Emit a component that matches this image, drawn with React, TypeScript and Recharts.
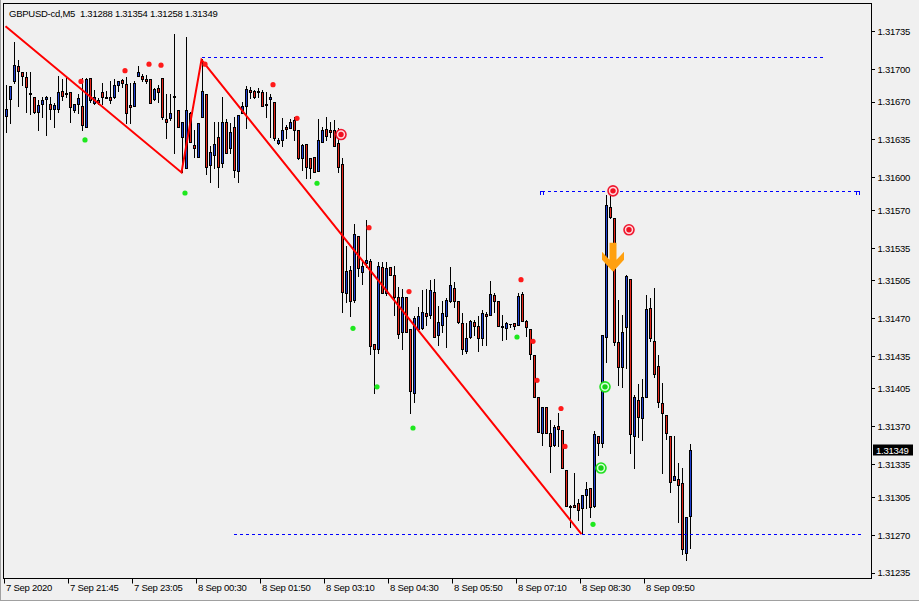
import React from "react"
import { ComposedChart, Bar, Line, XAxis, YAxis, ReferenceLine, ReferenceDot } from "recharts"

// time axis labels (one every 16 bars, M5)
const timeLabels = [
  "7 Sep 2020", "7 Sep 21:45", "7 Sep 23:05", "8 Sep 00:30", "8 Sep 01:50", "8 Sep 03:10",
  "8 Sep 04:30", "8 Sep 05:50", "8 Sep 07:10", "8 Sep 08:30", "8 Sep 09:50",
]
const timeTickIdx = [0, 16, 32, 48, 64, 80, 96, 112, 128, 144, 160]

const priceTicks = [
  1.31735, 1.317, 1.3167, 1.31635, 1.316, 1.3157, 1.31535, 1.31505, 1.3147, 1.31435,
  1.31405, 1.3137, 1.31335, 1.31305, 1.3127, 1.31235,
]

// GBPUSD-cd M5 candles
const open = [
  1.31657, 1.31673, 1.31689, 1.31703, 1.31698, 1.31693, 1.31678, 1.31675, 1.31661, 1.31668,
  1.31673, 1.31668, 1.31664, 1.31664, 1.3168, 1.31678, 1.31679, 1.31663, 1.31668, 1.31666,
  1.31647, 1.31692, 1.31669, 1.31672, 1.31679, 1.31675, 1.31675, 1.31675, 1.31686, 1.3169,
  1.31687, 1.31667, 1.31666, 1.31694, 1.31694, 1.31691, 1.31691, 1.31673, 1.31683, 1.31692,
  1.31654, 1.31655, 1.31676, 1.31663, 1.31638, 1.31609, 1.3166, 1.3163, 1.31619, 1.31656,
  1.31677, 1.31612, 1.31621, 1.31638, 1.31614, 1.31652, 1.31628, 1.31647, 1.31606, 1.3166,
  1.31666, 1.31681, 1.3168, 1.3168, 1.31679, 1.31668, 1.31673, 1.3167, 1.31632, 1.31635,
  1.31647, 1.31646, 1.31653, 1.31644, 1.31618, 1.31631, 1.31618, 1.31619, 1.31606, 1.31633,
  1.31645, 1.31644, 1.31644, 1.31632, 1.31613, 1.31494, 1.31515, 1.31487, 1.31546, 1.31513,
  1.31521, 1.31523, 1.31447, 1.31442, 1.31518, 1.31494, 1.31518, 1.3151, 1.3149, 1.31458,
  1.3149, 1.3146, 1.31401, 1.3146, 1.31461, 1.31475, 1.31473, 1.31495, 1.31455, 1.31464,
  1.31472, 1.31486, 1.31498, 1.31486, 1.31466, 1.3144, 1.31453, 1.31467, 1.31463, 1.31452,
  1.31474, 1.31473, 1.31492, 1.31486, 1.31463, 1.31461, 1.31465, 1.31466, 1.31464, 1.31493,
  1.31468, 1.3146, 1.31436, 1.31398, 1.31364, 1.31388, 1.31364, 1.31353, 1.31371, 1.31367,
  1.3133, 1.31297, 1.31298, 1.313, 1.31295, 1.31307, 1.31314, 1.31297, 1.31362, 1.31355,
  1.31453, 1.31573, 1.31563, 1.31448, 1.31425, 1.31462, 1.31507, 1.31362, 1.31395, 1.31378,
  1.31398, 1.3148, 1.31449, 1.31426, 1.31392, 1.31381, 1.31362, 1.31321, 1.31322, 1.31318,
  1.31254, 1.31288,
]
const high = [
  1.31686, 1.31685, 1.31725, 1.31709, 1.31698, 1.31698, 1.31698, 1.31675, 1.31672, 1.31675,
  1.31676, 1.31675, 1.31669, 1.31694, 1.31691, 1.31692, 1.31679, 1.31668, 1.31677, 1.31692,
  1.31692, 1.31692, 1.31681, 1.31674, 1.31688, 1.3168, 1.31689, 1.31691, 1.31689, 1.31691,
  1.31693, 1.31688, 1.31689, 1.31703, 1.31696, 1.31695, 1.31691, 1.31683, 1.31686, 1.31692,
  1.31677, 1.31677, 1.31733, 1.31663, 1.31652, 1.3173, 1.31661, 1.31644, 1.31651, 1.3171,
  1.31677, 1.31629, 1.31652, 1.31652, 1.31675, 1.31654, 1.31651, 1.31656, 1.31658, 1.3167,
  1.31685, 1.31684, 1.31681, 1.31683, 1.31681, 1.31679, 1.31677, 1.3167, 1.31637, 1.31655,
  1.31649, 1.31654, 1.31656, 1.31644, 1.31631, 1.31631, 1.31618, 1.31619, 1.31654, 1.31647,
  1.31656, 1.31652, 1.31653, 1.31646, 1.31618, 1.31537, 1.31519, 1.31557, 1.31546, 1.31522,
  1.31561, 1.31525, 1.31447, 1.31522, 1.31522, 1.31522, 1.31518, 1.31519, 1.31499, 1.31497,
  1.3149, 1.3146, 1.31472, 1.31481, 1.31496, 1.31497, 1.31506, 1.31507, 1.31482, 1.31486,
  1.31489, 1.31518, 1.31504, 1.31486, 1.31475, 1.31466, 1.31469, 1.31469, 1.31472, 1.31478,
  1.31476, 1.31505, 1.31494, 1.31486, 1.31473, 1.31467, 1.31465, 1.31466, 1.31494, 1.31495,
  1.31469, 1.3146, 1.31436, 1.31398, 1.31388, 1.31388, 1.31376, 1.31372, 1.31383, 1.31367,
  1.3133, 1.31298, 1.31327, 1.31303, 1.31307, 1.31319, 1.31314, 1.31366, 1.31362, 1.31455,
  1.31584, 1.31586, 1.31563, 1.31487, 1.31473, 1.3151, 1.31507, 1.31399, 1.3141, 1.31414,
  1.31492, 1.31489, 1.31498, 1.31436, 1.31411, 1.31381, 1.31362, 1.31362, 1.31337, 1.31332,
  1.31287, 1.31354,
]
const low = [
  1.31642, 1.31651, 1.31688, 1.31666, 1.31686, 1.31661, 1.31659, 1.3166, 1.31644, 1.31656,
  1.3164, 1.31654, 1.31647, 1.31661, 1.31672, 1.31675, 1.31652, 1.31661, 1.3166, 1.31644,
  1.31647, 1.3167, 1.31668, 1.31668, 1.31668, 1.31674, 1.31669, 1.31674, 1.3168, 1.31684,
  1.31651, 1.31651, 1.31666, 1.31694, 1.31689, 1.31688, 1.31669, 1.31672, 1.3167, 1.31654,
  1.31637, 1.31653, 1.31623, 1.31647, 1.31605, 1.31609, 1.31633, 1.31619, 1.31619, 1.31656,
  1.31604, 1.31596, 1.31609, 1.31592, 1.3161, 1.31623, 1.31623, 1.31601, 1.31596, 1.3166,
  1.31646, 1.31674, 1.31674, 1.31675, 1.31666, 1.31656, 1.31638, 1.31635, 1.31631, 1.31629,
  1.31637, 1.31646, 1.31635, 1.31617, 1.31607, 1.316, 1.316, 1.31605, 1.31606, 1.31633,
  1.31635, 1.31638, 1.31629, 1.31605, 1.31476, 1.31485, 1.31472, 1.31485, 1.31509, 1.31502,
  1.31518, 1.31437, 1.31401, 1.31438, 1.31494, 1.31492, 1.3151, 1.31473, 1.31452, 1.31442,
  1.31458, 1.31383, 1.31393, 1.31459, 1.3146, 1.31464, 1.31471, 1.31453, 1.31446, 1.31458,
  1.31444, 1.31485, 1.31481, 1.31466, 1.31437, 1.31438, 1.31452, 1.31455, 1.3144, 1.31446,
  1.31446, 1.31473, 1.31476, 1.31463, 1.3145, 1.31451, 1.31462, 1.3146, 1.31464, 1.31468,
  1.31454, 1.31433, 1.31398, 1.31365, 1.31353, 1.31364, 1.31328, 1.31352, 1.31352, 1.31332,
  1.31297, 1.31278, 1.31296, 1.31284, 1.31271, 1.31295, 1.31287, 1.31296, 1.31344, 1.31351,
  1.3143, 1.31563, 1.31446, 1.31409, 1.31407, 1.31424, 1.31346, 1.31332, 1.31361, 1.31358,
  1.31398, 1.31449, 1.31416, 1.31388, 1.31327, 1.31359, 1.3131, 1.31321, 1.31282, 1.31253,
  1.31247, 1.31258,
]
const close = [
  1.31664, 1.31685, 1.31704, 1.31699, 1.31694, 1.31684, 1.31677, 1.31661, 1.31667, 1.31672,
  1.31675, 1.31664, 1.31667, 1.31679, 1.31676, 1.31677, 1.31665, 1.31668, 1.31674, 1.31649,
  1.31691, 1.31672, 1.31675, 1.3167, 1.31675, 1.31674, 1.31672, 1.31686, 1.31689, 1.31688,
  1.3166, 1.31665, 1.31688, 1.31698, 1.31691, 1.31689, 1.31669, 1.31682, 1.31679, 1.31656,
  1.31652, 1.3166, 1.31675, 1.31647, 1.31652, 1.31663, 1.31633, 1.31628, 1.31651, 1.3168,
  1.3161, 1.31624, 1.31631, 1.3161, 1.31652, 1.31623, 1.31642, 1.31607, 1.31658, 1.31666,
  1.31682, 1.31679, 1.31675, 1.31679, 1.31666, 1.31667, 1.31675, 1.31637, 1.31635, 1.31644,
  1.31645, 1.31652, 1.31644, 1.31618, 1.3163, 1.3161, 1.31609, 1.31605, 1.31635, 1.31644,
  1.31639, 1.31642, 1.31629, 1.3161, 1.31495, 1.31514, 1.31486, 1.31548, 1.31517, 1.31519,
  1.31524, 1.31445, 1.31442, 1.31519, 1.31494, 1.31517, 1.3151, 1.3149, 1.31456, 1.3149,
  1.31458, 1.31403, 1.31471, 1.31472, 1.31476, 1.31472, 1.31496, 1.31453, 1.31467, 1.31475,
  1.31487, 1.31501, 1.31486, 1.31467, 1.31442, 1.31452, 1.31468, 1.31463, 1.31452, 1.31475,
  1.31472, 1.31493, 1.31486, 1.31463, 1.31462, 1.31466, 1.31465, 1.31463, 1.31491, 1.31468,
  1.31462, 1.31437, 1.31398, 1.31365, 1.31388, 1.31364, 1.31352, 1.3137, 1.31368, 1.31332,
  1.31297, 1.31296, 1.31296, 1.31293, 1.31307, 1.31313, 1.31296, 1.31363, 1.31355, 1.31455,
  1.31575, 1.31564, 1.31448, 1.31425, 1.31458, 1.31509, 1.31363, 1.31398, 1.31379, 1.31398,
  1.31479, 1.31452, 1.31419, 1.31393, 1.31383, 1.31364, 1.31319, 1.31325, 1.31316, 1.31257,
  1.31287, 1.31349,
]

// zigzag turning points
const zigzagIdx = [0, 44, 49, 144]
const zigzagVal = [1.3174, 1.31605, 1.31709, 1.31271]

// fractal-style dots
const upIdx = [19, 30, 36, 39, 50, 67, 73, 91, 101, 129, 132, 133, 139, 140]
const upVal = [1.31689, 1.31699, 1.31705, 1.31704, 1.31705, 1.31686, 1.31655, 1.31554, 1.31495, 1.31506, 1.31449, 1.31413, 1.31387, 1.31352]
const dnIdx = [20, 45, 78, 87, 93, 102, 128, 147]
const dnVal = [1.31635, 1.31586, 1.31595, 1.31461, 1.31407, 1.31369, 1.31453, 1.3128]

// signal markers
const sellIdx = [84, 152, 156]
const sellVal = [1.3164, 1.31588, 1.31552]
const buyIdx = [149, 150]
const buyVal = [1.31332, 1.31407]
const arrowIdx = [152]
const arrowVal = [1.3154]

// horizontal levels
const levelFrom = [49, 57, 134]
const levelTo = [205, 214, 213]
const levelPrice = [1.31711, 1.31271, 1.31587]

const SLOTS = 217
const FONT = "Tahoma, 'Liberation Sans', Arial, sans-serif"
const BULL = "#1f3fd0"
const BEAR = "#e5261b"

type Row = {
  i: number
  open?: number
  high?: number
  low?: number
  close?: number
  zz: number | null
  up: number | null
  dn: number | null
  sell: number | null
  buy: number | null
  arrow: number | null
}

const rows: Row[] = []
for (let i = 0; i < SLOTS; i++) {
  rows.push({
    i,
    open: open[i],
    high: high[i],
    low: low[i],
    close: close[i],
    zz: null,
    up: null,
    dn: null,
    sell: null,
    buy: null,
    arrow: null,
  })
}
zigzagIdx.forEach((k, j) => (rows[k].zz = zigzagVal[j]))
upIdx.forEach((k, j) => (rows[k].up = upVal[j]))
dnIdx.forEach((k, j) => (rows[k].dn = dnVal[j]))
sellIdx.forEach((k, j) => (rows[k].sell = sellVal[j]))
buyIdx.forEach((k, j) => (rows[k].buy = buyVal[j]))
arrowIdx.forEach((k, j) => (rows[k].arrow = arrowVal[j]))

const last = open.length - 1
const fmt = (v: number) => v.toFixed(5)

function Candle(props: any) {
  const { x, y, width, height, payload } = props
  if (!payload || payload.open == null || y == null || isNaN(y)) return <g />
  const top = Math.min(y, y + height)
  const h = Math.abs(height)
  const range = payload.high - payload.low
  const py = (p: number) => (range > 0 ? top + ((payload.high - p) / range) * h : top)
  const cx = Math.floor(x + width / 2) + 0.5
  const yo = Math.round(py(payload.open))
  const yc = Math.round(py(payload.close))
  const b0 = Math.min(yo, yc) + 0.5
  const b1 = Math.max(yo, yc) + 0.5
  const fill = payload.close > payload.open ? BULL : BEAR
  return (
    <g>
      <line x1={cx} x2={cx} y1={Math.round(top)} y2={Math.round(top + h) + 1} stroke="#000" />
      {b1 - b0 < 1 ? (
        <line x1={cx - 1.5} x2={cx + 1.5} y1={b0} y2={b0} stroke="#000" />
      ) : (
        <rect x={cx - 1} y={b0} width={2} height={b1 - b0} fill={fill} stroke="#000" />
      )}
    </g>
  )
}

const dotOf = (color: string, name: string) => (p: any) => {
  if (p.value == null || p.cy == null || isNaN(p.cy)) return <g key={`${name}${p.index}`} />
  return <circle key={`${name}${p.index}`} cx={p.cx - 0.5} cy={p.cy} r={2.6} fill={color} />
}

const bullseyeOf = (ring: string, inner: string, core: string, name: string) => (p: any) => {
  if (p.value == null || p.cy == null || isNaN(p.cy)) return <g key={`${name}${p.index}`} />
  return (
    <g key={`${name}${p.index}`}>
      <circle cx={p.cx - 0.5} cy={p.cy} r={5} fill={inner} stroke={ring} strokeWidth={1.6} />
      <circle cx={p.cx - 0.5} cy={p.cy} r={2.7} fill={core} />
    </g>
  )
}

const arrowDot = (p: any) => {
  if (p.value == null || p.cy == null || isNaN(p.cy)) return <g key={`ar${p.index}`} />
  const c = p.cx - 0.5
  const t = p.cy
  const pts = [
    [-3.5, 0], [3.5, 0], [3.5, 17], [11, 9], [11, 17], [0, 29], [-11, 17], [-11, 9], [-3.5, 17],
  ]
    .map(([dx, dy]) => `${c + dx},${t + dy}`)
    .join(" ")
  return <polygon key={`ar${p.index}`} points={pts} fill="#ffa010" />
}

function TimeTick(props: any) {
  const { x, y, payload } = props
  const k = timeTickIdx.indexOf(payload.value)
  const tx = Math.floor(x) - 0.5
  return (
    <g>
      <line x1={tx} x2={tx} y1={y} y2={y + 5} stroke="#000" />
      <text x={tx + 1.5} y={y + 12.5} fontSize={9.5} fontFamily={FONT} fill="#000" style={{ letterSpacing: -0.25 }}>
        {timeLabels[k]}
      </text>
    </g>
  )
}

function PriceTag(props: any) {
  const vb = props.viewBox
  if (!vb) return null
  const x0 = vb.x + vb.width + 1.5
  const yy = Math.round(vb.y)
  return (
    <g>
      <rect x={x0} y={yy - 5.5} width={40} height={11} fill="#000" />
      <text x={x0 + 3} y={yy + 3.5} fontSize={9.5} fontFamily={FONT} fill="#fff" style={{ letterSpacing: -0.25 }}>
        {fmt(close[last])}
      </text>
    </g>
  )
}

function LevelEnd(props: any) {
  const { cx, cy } = props
  const x = Math.round(cx) - 0.5
  const y = Math.round(cy) + 0.5
  return <path d={`M${x - 1.5},${y + 2} V${y - 1.5} H${x + 1.5} V${y + 2}`} stroke="#0000ff" fill="none" shapeRendering="crispEdges" />
}

export default function App() {
  return (
    <div style={{ position: "absolute", left: 0, top: 0, width: 919, height: 601, background: "#f0f0f0", boxShadow: "inset 1px -1px 0 #a0a0a0" }}>
      <ComposedChart width={919} height={601} data={rows} margin={{ top: 3.5, right: 0, bottom: 0, left: 3.5 }}>
        <XAxis
          dataKey="i"
          type="category"
          ticks={timeTickIdx}
          interval={0}
          tick={<TimeTick />}
          tickLine={false}
          axisLine={false}
          tickSize={0}
          tickMargin={0}
          height={22.5}
        />
        <YAxis
          orientation="right"
          type="number"
          domain={[1.3123, 1.31761]}
          ticks={priceTicks}
          interval={0}
          allowDataOverflow
          width={47.5}
          axisLine={false}
          tickLine={{ stroke: "#000", shapeRendering: "crispEdges" }}
          tickSize={3}
          tickMargin={3}
          tick={{ fill: "#000", fontSize: 9.5, fontFamily: FONT, textAnchor: "start", style: { letterSpacing: -0.25 } }}
          tickFormatter={(v: number) => fmt(v)}
        />
        {levelPrice.map((p, k) => (
          <ReferenceLine
            key={`lv${k}`}
            segment={[{ x: levelFrom[k], y: p }, { x: levelTo[k], y: p }]}
            stroke="#0000ff"
            strokeDasharray="3 3"
            shapeRendering="crispEdges"
            ifOverflow="visible"
          />
        ))}
        <ReferenceDot x={levelFrom[2]} y={levelPrice[2]} shape={<LevelEnd />} />
        <ReferenceDot x={levelTo[2]} y={levelPrice[2]} shape={<LevelEnd />} />
        <Bar
          dataKey={(d: Row) => (d.low == null ? null : [d.low, d.high])}
          barSize={3}
          shape={<Candle />}
          isAnimationActive={false}
        />
        <Line dataKey="zz" stroke="#ff0000" strokeWidth={2} connectNulls dot={false} activeDot={false} isAnimationActive={false} />
        <Line dataKey="up" stroke="none" dot={dotOf("#ff1a1a", "u")} activeDot={false} isAnimationActive={false} />
        <Line dataKey="dn" stroke="none" dot={dotOf("#1ee81e", "d")} activeDot={false} isAnimationActive={false} />
        <Line dataKey="sell" stroke="none" dot={bullseyeOf("#f01830", "#ffd8dc", "#f01020", "s")} activeDot={false} isAnimationActive={false} />
        <Line dataKey="buy" stroke="none" dot={bullseyeOf("#20e020", "#d8ffd8", "#18d018", "b")} activeDot={false} isAnimationActive={false} />
        <Line dataKey="arrow" stroke="none" dot={arrowDot} activeDot={false} isAnimationActive={false} />
        <ReferenceLine y={close[last]} stroke="none" label={(p: any) => <PriceTag {...p} />} />
      </ComposedChart>
      <svg width={919} height={601} style={{ position: "absolute", left: 0, top: 0, pointerEvents: "none" }}>
        <rect x={3.5} y={3.5} width={868} height={575} fill="none" stroke="#000" />
        <text x={9} y={16.5} fontSize={9.5} fontFamily={FONT} fill="#000" style={{ whiteSpace: "pre", letterSpacing: -0.25 }}>
          {`GBPUSD-cd,M5  ${fmt(open[last])} ${fmt(high[last])} ${fmt(low[last])} ${fmt(close[last])}`}
        </text>
      </svg>
    </div>
  )
}
